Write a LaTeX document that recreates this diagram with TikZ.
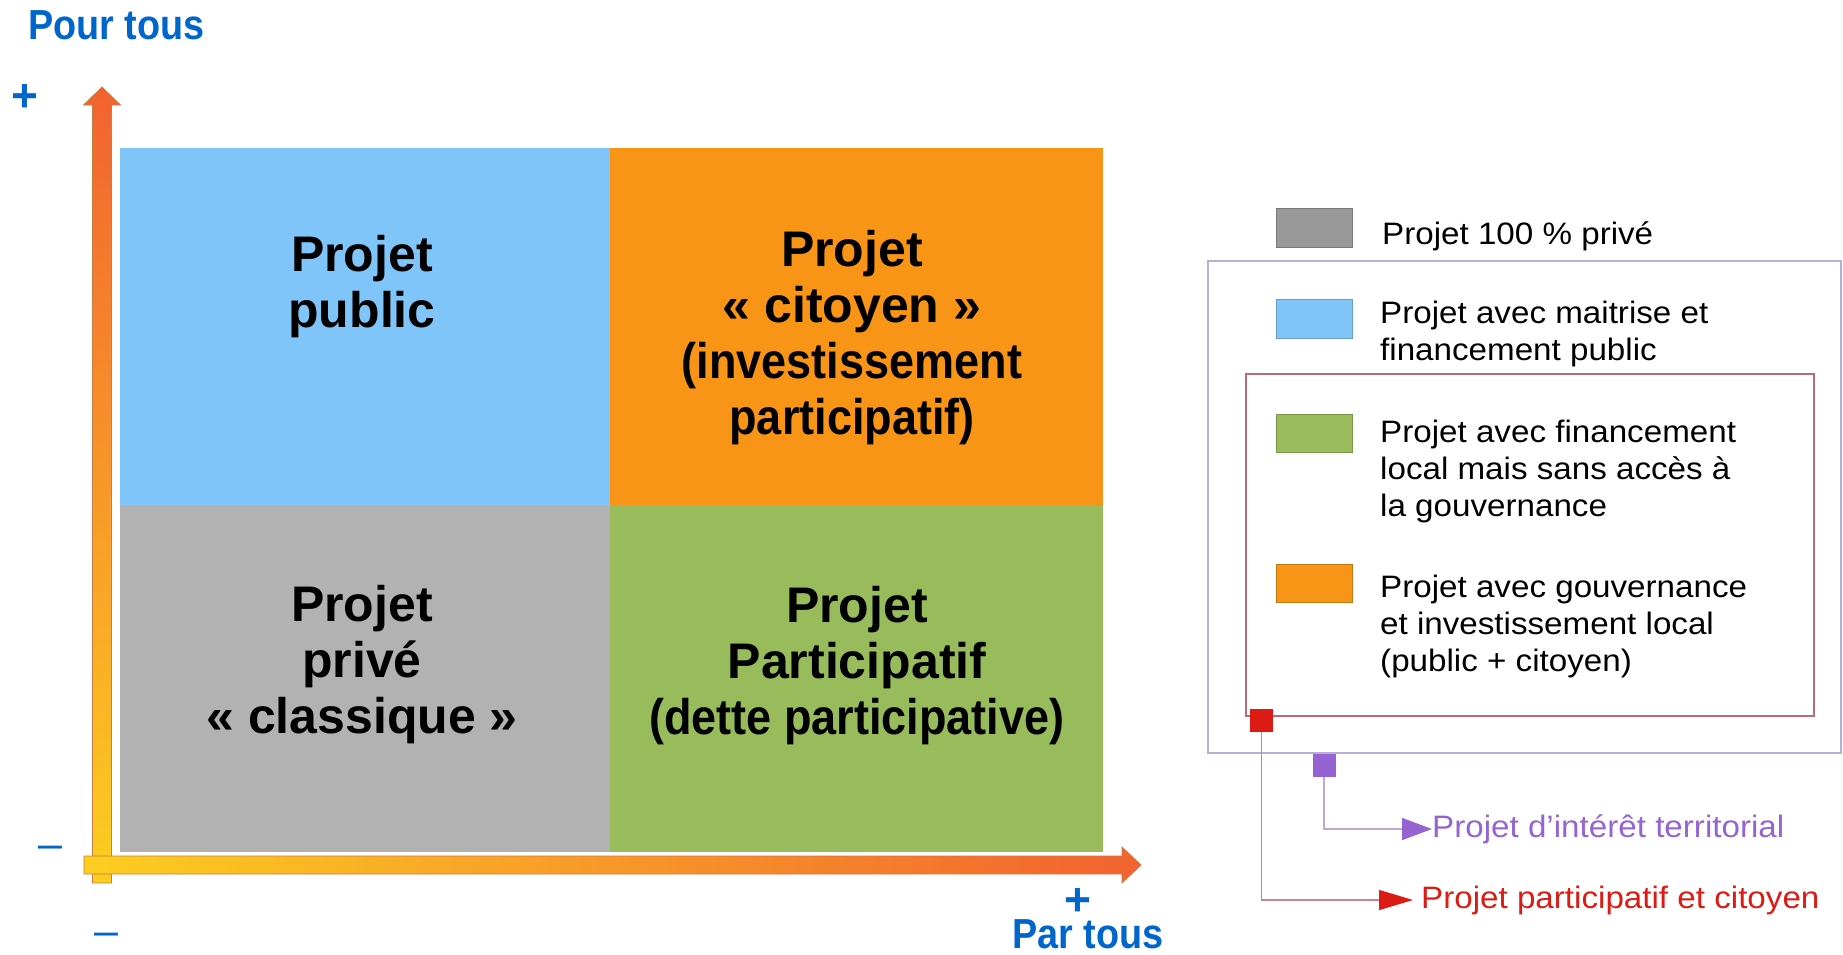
\documentclass[tikz,border=0pt]{standalone}
\usepackage{fontspec}
\setmainfont{Liberation Sans}
\newfontfamily\narrowfont[FakeStretch=0.9]{Liberation Sans}
\newfontfamily\legendfont[FakeStretch=1.07]{Liberation Sans}
\usetikzlibrary{arrows.meta}
\usetikzlibrary{positioning}
\definecolor{axisblue}{RGB}{0,102,204}
\definecolor{pubblue}{RGB}{128,197,250}
\definecolor{citorange}{RGB}{248,148,22}
\definecolor{privgray}{RGB}{178,178,178}
\definecolor{partgreen}{RGB}{152,187,92}
\definecolor{swatchgray}{RGB}{152,153,152}
\definecolor{arrowyellow}{RGB}{252,206,32}
\definecolor{arrowred}{RGB}{242,98,48}
\definecolor{arrowedge}{RGB}{200,125,70}
\definecolor{terrpurple}{RGB}{150,100,210}
\definecolor{terrline}{RGB}{185,168,215}
\definecolor{terrframe}{RGB}{186,174,212}
\definecolor{partred}{RGB}{220,28,20}
\definecolor{partline}{RGB}{205,130,140}
\definecolor{partframe}{RGB}{190,105,120}
\tikzset{quadtext/.style = {align=center, inner sep=0,
                            font=\bfseries\fontsize{50}{56}\selectfont}}
\tikzset{axislabel/.style = {text=axisblue, inner sep=0,
                             font=\narrowfont\bfseries\fontsize{42}{48}\selectfont}}
\tikzset{sign/.style = {text=axisblue, inner sep=0, anchor=base,
                        font=\bfseries\fontsize{46}{50}\selectfont}}
\tikzset{minus/.style = {text=axisblue, inner sep=0, anchor=base,
                         font=\fontsize{43}{50}\selectfont}}
\tikzset{legendtext/.style = {align=left, inner sep=0, anchor=north west,
                              font=\legendfont\fontsize{31}{36.7}\selectfont}}
\tikzset{labeltext/.style = {inner sep=0, anchor=west,
                             font=\legendfont\fontsize{31}{36.7}\selectfont}}
\tikzset{swatch/.style = {draw=#1!80!black, fill=#1, line width=1pt}}
\tikzset{marker/.style = {fill=#1, inner sep=0, minimum width=23pt, minimum height=23pt}}

\begin{document}
\begin{tikzpicture}[x=1pt, y=-1pt]
    \useasboundingbox (0, 0) rectangle (1843, 954);

    % quadrants
    \fill [pubblue] (120, 148) rectangle (610, 505);
    \fill [citorange] (610, 148) rectangle (1103, 505);
    \fill [privgray] (120, 505) rectangle (610, 852);
    \fill [partgreen] (610, 505) rectangle (1103, 852);

    \node [quadtext] (public) at (362, 287) {Projet\\public};
    \node [quadtext] (citoyen) at (852, 338)
      {Projet\\«~citoyen~»\\\narrowfont (investissement\\\narrowfont participatif)};
    \node [quadtext] (prive) at (362, 665) {Projet\\privé\\«~classique~»};
    \node [quadtext] (participatif) at (857, 666)
      {Projet\\Participatif\\\narrowfont (dette participative)};

    % axes
    \shadedraw [bottom color=arrowyellow, top color=arrowred, draw=arrowedge, line width=0.8pt]
      (92.5, 883) -- (92.5, 105) -- (83.5, 105) -- (102, 87) -- (120.5, 105)
      -- (111.5, 105) -- (111.5, 883) -- cycle;
    \shadedraw [left color=arrowyellow, right color=arrowred, draw=arrowedge, line width=0.8pt]
      (84, 856) -- (1122, 856) -- (1122, 847) -- (1141, 865) -- (1122, 883)
      -- (1122, 874) -- (84, 874) -- cycle;

    \node [axislabel, anchor=base west] (pourtous) at (28, 39) {Pour tous};
    \node [sign] (plusy) at (24.5, 111) {+};
    \node [minus] (minusy) at (50, 858) {–};
    \node [minus] (minusx) at (106, 945) {–};
    \node [sign] (plusx) at (1078, 915) {+};
    \node [axislabel, anchor=base] (partous) at (1088, 948) {Par tous};

    % legend
    \draw [terrframe, line width=2.5pt] (1208, 261) rectangle (1841, 753);
    \draw [partframe, line width=1.2pt] (1246, 374) rectangle (1814, 716);

    \draw [swatch=swatchgray] (1276, 208) rectangle (1352, 247);
    \draw [swatch=pubblue] (1276, 299) rectangle (1352, 338);
    \draw [swatch=partgreen] (1276, 414) rectangle (1352, 452);
    \draw [swatch=citorange] (1276, 564) rectangle (1352, 602);

    \node [legendtext] (legprive) at (1382, 221) {Projet 100~\% privé};
    \node [legendtext] (legpublic) at (1380, 301) {Projet avec maitrise et\\financement public};
    \node [legendtext] (leglocal) at (1380, 420) {Projet avec financement\\local mais sans accès à\\la gouvernance};
    \node [legendtext] (leggouv) at (1380, 575) {Projet avec gouvernance\\et investissement local\\(public + citoyen)};

    \node [marker=partred] (redmark) at (1261.5, 720.5) {};
    \node [marker=terrpurple] (purplemark) at (1324, 765.5) {};

    \node [labeltext, text=terrpurple] (terrlabel) at (1432, 829) {Projet d’intérêt territorial};
    \node [labeltext, text=partred] (partlabel) at (1421, 900) {Projet participatif et citoyen};

    \draw [terrline, line width=1.5pt, -{Triangle[length=30pt, width=22pt, color=terrpurple]}]
      (purplemark) |- (terrlabel.west);
    \draw [partline, line width=1.5pt, shorten >=8pt, -{Triangle[length=34pt, width=20pt, color=partred]}]
      (redmark) |- (partlabel.west);
\end{tikzpicture}
\end{document}
